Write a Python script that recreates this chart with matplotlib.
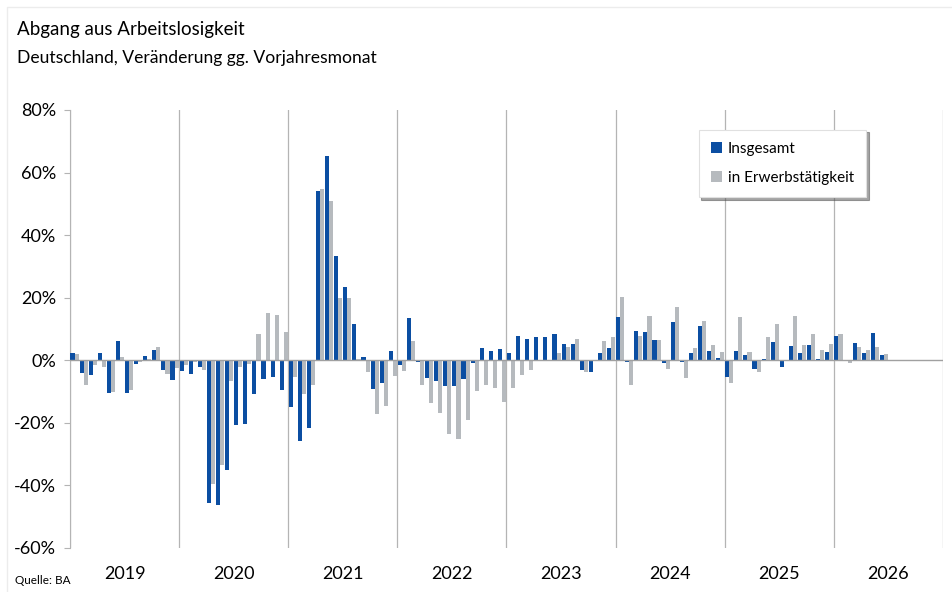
import numpy as np
import matplotlib.pyplot as plt
from matplotlib.patches import Rectangle

plt.rcParams['font.family'] = ['Lato', 'DejaVu Sans']

# Monthly change vs. previous-year month, in percent
years = ['2019', '2020', '2021', '2022', '2023', '2024', '2025', '2026']

insgesamt = [
    2.4, -4.2, -4.6, 2.4, -10.6, 6.1, -10.3, -1.3, 1.3, 3.4, -3.2, -6.4,        # 2019
    -3.5, -4.3, -2.3, -45.6, -46.2, -35.1, -20.8, -20.3, -10.9, -6.1, -5.4, -9.6,  # 2020
    -14.9, -25.7, -21.5, 54.0, 65.2, 33.3, 23.4, 11.5, 1.1, -9.2, -7.4, 2.9,   # 2021
    -1.6, 13.6, -0.5, -5.6, -6.7, -8.3, -8.3, -6.1, -0.8, 4.0, 2.9, 3.5,       # 2022
    2.2, 7.8, 6.7, 7.3, 7.3, 8.3, 5.1, 5.1, -3.1, -3.7, 2.2, 3.8,              # 2023
    13.8, -0.7, 9.4, 9.0, 6.4, -1.0, 12.2, -0.4, 2.2, 11.0, 3.0, 0.8,          # 2024
    -5.3, 2.9, 1.6, -2.9, 0.4, 5.8, -2.1, 4.5, 2.2, 4.8, 0.5, 2.6,             # 2025
    7.7, -0.3, 5.4, 2.2, 8.7, 1.6,                                             # 2026
]

erwerb = [
    2.0, -7.8, -1.5, -2.2, -10.0, 1.0, -9.5, -0.6, 0.3, 4.2, -4.5, -2.5,
    -1.6, -0.5, -3.0, -39.4, -33.5, -6.7, -2.3, -1.3, 8.4, 15.1, 14.5, 9.1,
    -5.2, -10.8, -8.0, 54.8, 51.0, 20.0, 19.8, 0.3, -3.9, -17.3, -14.7, -4.9,
    -3.5, 6.1, -7.8, -13.8, -16.7, -23.7, -25.2, -19.1, -9.9, -8.0, -8.8, -13.2,
    -9.0, -4.7, -3.1, 0.2, 0.2, 2.2, 4.3, 6.7, -3.9, 0.2, 6.1, 7.3,
    20.2, -7.8, 7.7, 14.1, 6.4, -2.7, 17.0, -5.8, 3.8, 12.4, 4.8, 2.6,
    -7.3, 13.7, 2.6, -3.7, 7.3, 11.5, 0.2, 14.0, 4.8, 8.3, 3.2, 5.1,
    8.3, -1.0, 4.4, 3.2, 4.4, 1.9,
]

blue = '#0b4ea2'
grey = '#b6babe'

fig = plt.figure(figsize=(9.52, 5.92), dpi=100)
ax = fig.add_axes([70 / 952, 1 - 548 / 592, 873 / 952, 438 / 592])

x = np.arange(len(insgesamt))
w = 0.45
ax.bar(x + 0.05 + w / 2, insgesamt, width=w, color=blue, label='Insgesamt', zorder=3)
ax.bar(x + 0.5 + w / 2, erwerb, width=w, color=grey, label='in Erwerbstätigkeit', zorder=2)

n_years = len(years)
ax.set_xlim(0, 12 * n_years)
ax.set_ylim(-60, 80)

# year separators and zero line
for k in range(n_years + 1):
    ax.axvline(12 * k, color='#b4b4b4', lw=0.9, zorder=1)
ax.axhline(0, color='#a0a0a0', lw=1, zorder=4)

ax.set_yticks(np.arange(-60, 81, 20))
ax.set_yticklabels([f'{v}%' for v in range(-60, 81, 20)], fontsize=13)
ax.tick_params(axis='y', length=4, color='#b4b4b4', pad=6)
ax.set_xticks([12 * k + 6 for k in range(n_years)])
ax.set_xticklabels(years, fontsize=13)
ax.tick_params(axis='x', length=0, pad=13)

for s in ['top', 'right', 'bottom']:
    ax.spines[s].set_visible(False)
ax.spines['left'].set_color('#b4b4b4')

leg = ax.legend(loc='upper left', bbox_to_anchor=(621 / 873, (548 - 122) / 438),
                fontsize=11, frameon=True, fancybox=False, shadow=True,
                handlelength=0.7, handleheight=0.7, handletextpad=0.4,
                labelspacing=1.0, borderpad=0.8)
leg.get_frame().set_edgecolor('#e0e0e0')
leg.get_frame().set_linewidth(0.8)

fig.text(17 / 952, 1 - 30 / 592, 'Abgang aus Arbeitslosigkeit', fontsize=13.5,
         va='center', ha='left')
fig.text(17 / 952, 1 - 58 / 592, 'Deutschland, Veränderung gg. Vorjahresmonat',
         fontsize=12.6, va='center', ha='left')
fig.text(15 / 952, 1 - 581 / 592, 'Quelle: BA', fontsize=8.5, va='center', ha='left')

# faint card border
fig.add_artist(Rectangle((7 / 952, -0.01), 1.2, 1 - 7 / 592 + 0.01,
                         transform=fig.transFigure, fill=False,
                         edgecolor='#ececec', lw=1))

fig.savefig('out.png', dpi=100)
